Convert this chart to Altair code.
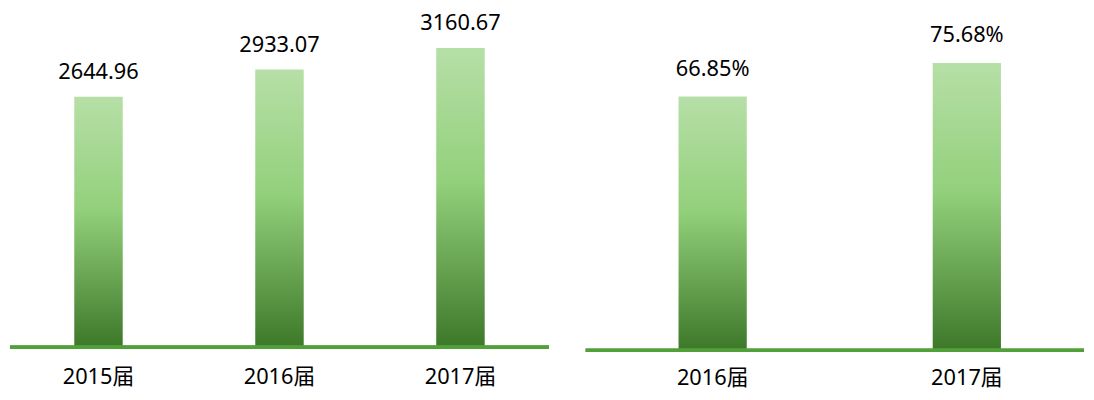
import altair as alt
import pandas as pd

left_years = ["2015届", "2016届", "2017届"]
left_values = [2644.96, 2933.07, 3160.67]
left_labels = ["2644.96", "2933.07", "3160.67"]

right_years = ["2016届", "2017届"]
right_values = [66.85, 75.68]
right_labels = ["66.85%", "75.68%"]

FONT = "Noto Sans, Noto Sans CJK SC"
LINE = "#52a03a"

grad = alt.LinearGradient(
    gradient="linear",
    x1=0, x2=0, y1=0, y2=1,
    stops=[
        alt.GradientStop(color="#b6dfa7", offset=0),
        alt.GradientStop(color="#93d07b", offset=0.45),
        alt.GradientStop(color="#3d7829", offset=1),
    ],
)


def panel(years, values, labels, w, h, ymax, bar_w, dy, pad_inner, shift, label_pad, rule_x2):
    df = pd.DataFrame({"year": years, "value": values, "label": labels})
    x = alt.X(
        "year:N",
        sort=years,
        scale=alt.Scale(paddingInner=pad_inner, paddingOuter=0),
        axis=alt.Axis(
            title=None, domain=False, ticks=False, tickSize=0,
            labelAngle=0, labelFont=FONT, labelFontSize=22,
            labelColor="#000000", labelPadding=label_pad, labelBaseline="top",
            labelOffset=shift,
        ),
    )
    y = alt.Y("value:Q", scale=alt.Scale(domain=[0, ymax], nice=False, zero=True), axis=None)
    base = alt.Chart(df)
    bars = base.mark_bar(color=grad, width=bar_w, xOffset=shift).encode(x=x, y=y)
    text = base.mark_text(
        font=FONT, fontSize=22, color="#000000", baseline="alphabetic", dy=dy, dx=shift
    ).encode(x=x, y=y, text="label:N")
    rule = base.mark_rule(color=LINE, strokeWidth=3.5).encode(
        x=alt.value(0), x2=alt.value(rule_x2), y=alt.value(h)
    )
    return alt.layer(bars, text, rule).properties(width=w, height=h)


left = panel(left_years, left_values, left_labels, 545, 341, 3560, 49, -18, 0.0219, 0, 20, 545)
right = panel(right_years, right_values, right_labels, 500, 344, 89.6, 69, -21, 0.0545, 7, 18, 504)

chart = (
    alt.hconcat(left, right, spacing=33)
    .properties(padding=0)
    .configure_view(stroke=None)
)

chart.save("out.html", embed_options={"renderer": "svg", "actions": False})
